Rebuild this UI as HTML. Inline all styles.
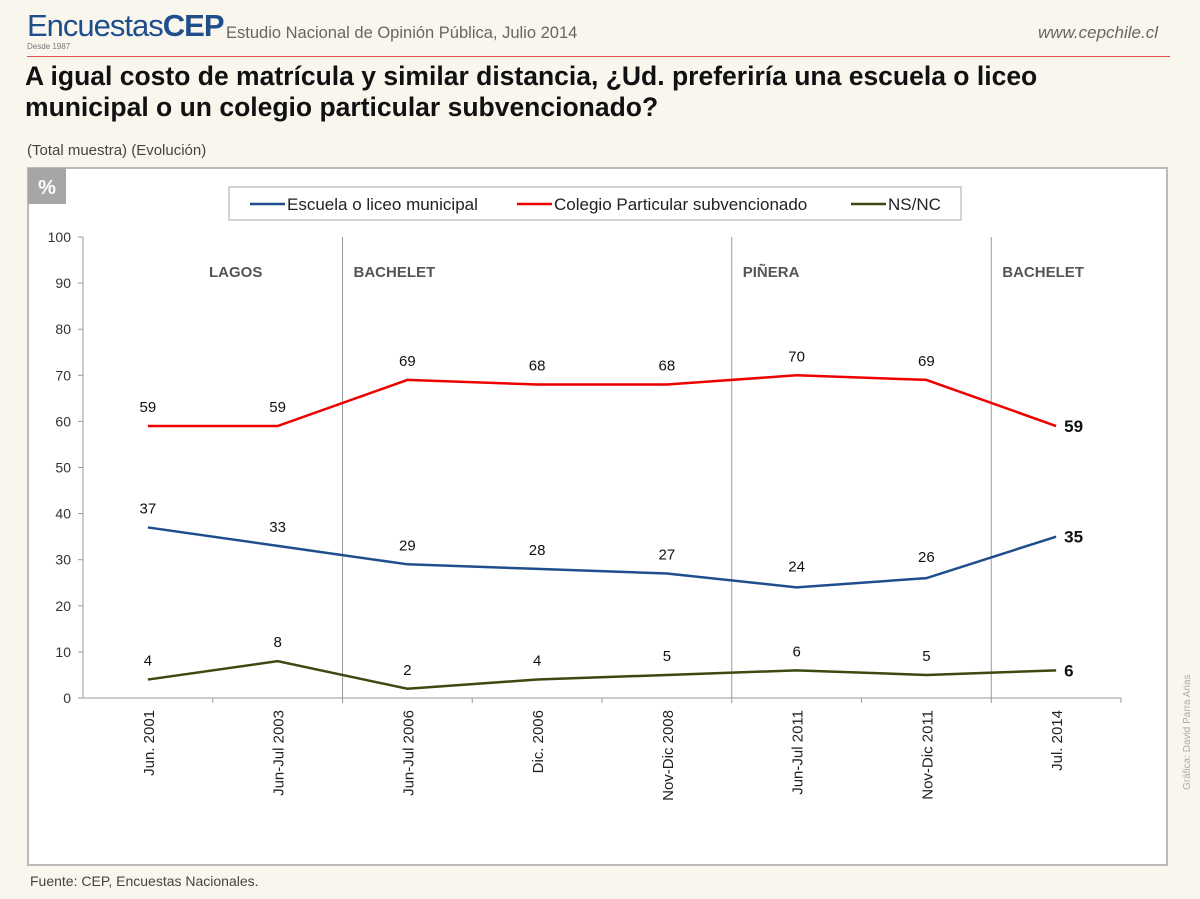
<!DOCTYPE html>
<html><head><meta charset="utf-8"><style>
body{margin:0;width:1200px;height:899px;background:#f9f6ee;font-family:"Liberation Sans",sans-serif;overflow:hidden;position:relative}
.a{position:absolute;white-space:nowrap}
</style></head><body>
<div class="a" style="left:27px;top:8px;font-size:31px;color:#1f4e8c;letter-spacing:-1px">Encuestas<b>CEP</b></div>
<div class="a" style="left:27px;top:42px;font-size:8px;color:#777">Desde 1987</div>
<div class="a" style="left:226px;top:24px;font-size:16.5px;color:#666">Estudio Nacional de Opinión Pública, Julio 2014</div>
<div class="a" style="right:42px;top:23px;font-size:17px;color:#666;font-style:italic">www.cepchile.cl</div>
<div class="a" style="left:27px;top:56px;width:1143px;height:1px;background:#d9534f"></div>
<div class="a" style="left:25px;top:61px;font-size:26.5px;font-weight:bold;color:#111;line-height:31px">A igual costo de matrícula y similar distancia, ¿Ud. preferiría una escuela o liceo<br>municipal o un colegio particular subvencionado?</div>
<div class="a" style="left:27px;top:142px;font-size:15px;color:#444">(Total muestra) (Evolución)</div>
<div class="a" style="left:30px;top:873px;font-size:14px;color:#444">Fuente: CEP, Encuestas Nacionales.</div>
<div class="a" style="left:1182px;top:790px;font-size:10px;color:#aaa;transform:rotate(-90deg);transform-origin:0 0">Gráfica: David Parra Arias</div>
<svg class="a" style="left:0;top:0" width="1200" height="899">
<rect x="28" y="168" width="1139" height="697" fill="#fff" stroke="#bbb" stroke-width="2"/>
<rect x="28" y="168" width="38" height="36" fill="#a6a6a6"/>
<text x="47" y="194" font-size="20" font-weight="bold" fill="#fff" text-anchor="middle">%</text>
<rect x="229" y="187" width="732" height="33" fill="#fff" stroke="#aaa"/>
<g id="g"></g>
</svg>
<script>
const categories=["Jun. 2001","Jun-Jul 2003","Jun-Jul 2006","Dic. 2006","Nov-Dic 2008","Jun-Jul 2011","Nov-Dic 2011","Jul. 2014"];
const municipal=[37,33,29,28,27,24,26,35];
const subvencionado=[59,59,69,68,68,70,69,59];
const nsnc=[4,8,2,4,5,6,5,6];
const yTicks=[0,10,20,30,40,50,60,70,80,90,100];
const periods=[{name:"LAGOS",start:0},{name:"BACHELET",start:2},{name:"PIÑERA",start:5},{name:"BACHELET",start:7}];
const X0=83,X1=1121,Y0=698,Y1=237;
const step=(X1-X0)/categories.length;
const x=i=>X0+step*(i+0.5);
const y=v=>Y0-(v/100)*(Y0-Y1);
const g=document.getElementById('g');
const NS='http://www.w3.org/2000/svg';
function mk(t,a,txt){const e=document.createElementNS(NS,t);for(const k in a)e.setAttribute(k,a[k]);if(txt!==undefined)e.textContent=txt;g.appendChild(e);return e;}
let e=mk('line',{x1:X0,y1:Y1,x2:X0,y2:Y0,stroke:'#999'});

e=mk('line',{x1:X0,y1:Y0,x2:X1,y2:Y0,stroke:'#999'});

yTicks.forEach(v=>{
 mk('line',{x1:X0-5,y1:y(v),x2:X0,y2:y(v),stroke:'#999'});
 e=mk('text',{x:X0-12,y:y(v)+5,'font-size':14,fill:'#333','text-anchor':'end'},v);
 
});
categories.forEach((c,i)=>{
 mk('line',{x1:X0+step*(i+1),y1:Y0,x2:X0+step*(i+1),y2:Y0+5,stroke:'#999'});
 e=mk('text',{transform:`translate(${x(i)+6},${Y0+12}) rotate(-90)`,'font-size':15,fill:'#222','text-anchor':'end'},c);
 
});
periods.forEach((p,k)=>{
 const px=X0+step*p.start;
 if(p.start>0){e=mk('line',{x1:px,y1:Y1,x2:px,y2:Y0,stroke:'#999'});
 }
 e=mk('text',{x:p.start===0?px+126:px+11,y:277,'font-size':15,'font-weight':'bold',fill:'#555'},p.name);
 
});
const series=[{d:municipal,c:'#1f4e8c',n:'municipal',off:[-14,-14,-14,-14,-14,-16,-16,0]},
{d:subvencionado,c:'#e00',n:'subvencionado',off:[-14,-14,-14,-14,-14,-14,-14,0]},
{d:nsnc,c:'#3a4a10',n:'nsnc',off:[-14,-14,-14,-14,-14,-14,-14,0]}];
series.forEach(s=>{
 e=mk('polyline',{points:s.d.map((v,i)=>x(i)+','+y(v)).join(' '),fill:'none',stroke:s.c,'stroke-width':2.5});
 
 s.d.forEach((v,i)=>{
  const last=i===s.d.length-1;
  e=mk('text',last?{x:x(i)+8,y:y(v)+6,'font-size':17,'font-weight':'bold',fill:'#111'}:{x:x(i),y:y(v)+s.off[i],'font-size':15,fill:'#111','text-anchor':'middle'},v);
  
 });
});
const leg=[["Escuela o liceo municipal",'#1f4e8c',250],["Colegio Particular subvencionado",'#e00',517],["NS/NC",'#3a4a10',851]];
leg.forEach(l=>{
 mk('line',{x1:l[2],y1:204,x2:l[2]+35,y2:204,stroke:l[1],'stroke-width':2.5});
 e=mk('text',{x:l[2]+37,y:210,'font-size':17,fill:'#222'},l[0]);
 
});
</script>
</body></html>
